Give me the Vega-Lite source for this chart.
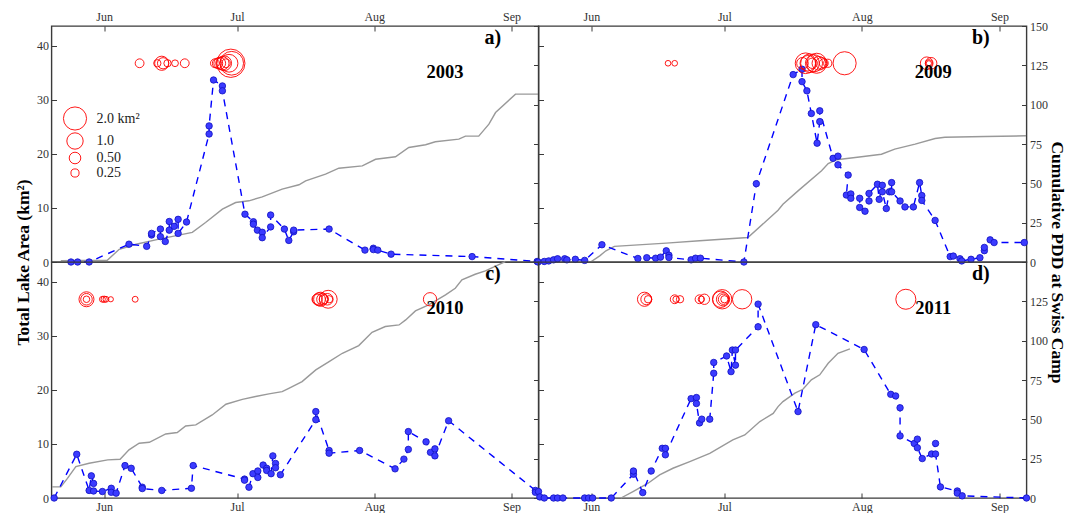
{
  "$schema": "https://vega.github.io/schema/vega-lite/v6.json",
  "padding": {"left": 13.5, "top": 9, "right": 0, "bottom": 0},
  "background": "white",
  "datasets": {
    "area": [
      {"p":"a","doy":144.5,"km2":0,"i":1},{"p":"a","doy":146.0,"km2":0,"i":2},{"p":"a","doy":148.6,"km2":0,"i":3},
      {"p":"a","doy":157.6,"km2":3.3,"i":4},{"p":"a","doy":161.6,"km2":2.9,"i":5},{"p":"a","doy":162.7,"km2":5.0,"i":6},
      {"p":"a","doy":162.7,"km2":5.3,"i":7},{"p":"a","doy":164.7,"km2":6.1,"i":8},{"p":"a","doy":164.7,"km2":4.7,"i":9},
      {"p":"a","doy":165.8,"km2":3.8,"i":10},{"p":"a","doy":166.7,"km2":5.9,"i":11},{"p":"a","doy":166.7,"km2":7.5,"i":12},
      {"p":"a","doy":167.8,"km2":6.6,"i":13},{"p":"a","doy":168.7,"km2":7.9,"i":14},{"p":"a","doy":168.7,"km2":5.3,"i":15},
      {"p":"a","doy":170.6,"km2":7.4,"i":16},{"p":"a","doy":175.7,"km2":23.7,"i":17},{"p":"a","doy":175.7,"km2":25.2,"i":18},
      {"p":"a","doy":176.7,"km2":33.7,"i":19},{"p":"a","doy":178.7,"km2":32.6,"i":20},{"p":"a","doy":178.7,"km2":31.7,"i":21},
      {"p":"a","doy":183.8,"km2":8.85,"i":22},{"p":"a","doy":185.7,"km2":7.45,"i":23},{"p":"a","doy":185.7,"km2":7.0,"i":24},
      {"p":"a","doy":186.6,"km2":5.9,"i":25},{"p":"a","doy":187.7,"km2":5.5,"i":26},{"p":"a","doy":187.7,"km2":4.5,"i":27},
      {"p":"a","doy":189.6,"km2":6.5,"i":28},{"p":"a","doy":189.6,"km2":8.7,"i":29},{"p":"a","doy":192.7,"km2":6.1,"i":30},
      {"p":"a","doy":193.7,"km2":4.0,"i":31},{"p":"a","doy":194.8,"km2":5.6,"i":32},{"p":"a","doy":194.8,"km2":5.9,"i":33},
      {"p":"a","doy":202.8,"km2":6.1,"i":34},{"p":"a","doy":210.9,"km2":2.2,"i":35},{"p":"a","doy":212.8,"km2":2.55,"i":36},
      {"p":"a","doy":212.8,"km2":2.3,"i":37},{"p":"a","doy":213.8,"km2":2.2,"i":38},{"p":"a","doy":216.8,"km2":1.45,"i":39},
      {"p":"a","doy":235.1,"km2":1.0,"i":40},{"p":"a","doy":249.8,"km2":0.1,"i":41},

      {"p":"b","doy":140.0,"km2":0.0,"i":1},{"p":"b","doy":141.4,"km2":0.1,"i":2},{"p":"b","doy":142.4,"km2":0.2,"i":3},
      {"p":"b","doy":143.5,"km2":0.4,"i":4},{"p":"b","doy":144.4,"km2":0.6,"i":5},{"p":"b","doy":146.0,"km2":0.6,"i":6},
      {"p":"b","doy":146.5,"km2":0.4,"i":7},{"p":"b","doy":148.4,"km2":0.5,"i":8},{"p":"b","doy":150.5,"km2":0.3,"i":9},
      {"p":"b","doy":154.4,"km2":3.2,"i":10},{"p":"b","doy":162.5,"km2":0.65,"i":11},{"p":"b","doy":164.5,"km2":0.8,"i":12},
      {"p":"b","doy":166.5,"km2":0.7,"i":13},{"p":"b","doy":167.6,"km2":0.9,"i":14},{"p":"b","doy":168.9,"km2":2.07,"i":15},
      {"p":"b","doy":169.5,"km2":1.26,"i":16},{"p":"b","doy":169.5,"km2":0.83,"i":17},{"p":"b","doy":174.5,"km2":0.4,"i":18},
      {"p":"b","doy":175.5,"km2":0.7,"i":19},{"p":"b","doy":176.6,"km2":0.7,"i":20},{"p":"b","doy":186.4,"km2":0.0,"i":21},
      {"p":"b","doy":189.2,"km2":14.5,"i":22},{"p":"b","doy":197.5,"km2":34.7,"i":23},{"p":"b","doy":199.5,"km2":35.7,"i":24},
      {"p":"b","doy":199.5,"km2":33.4,"i":25},{"p":"b","doy":200.6,"km2":31.7,"i":26},{"p":"b","doy":201.6,"km2":27.5,"i":27},
      {"p":"b","doy":202.9,"km2":22.0,"i":28},{"p":"b","doy":203.5,"km2":26.0,"i":29},{"p":"b","doy":203.5,"km2":28.0,"i":30},
      {"p":"b","doy":206.5,"km2":19.2,"i":31},{"p":"b","doy":207.6,"km2":19.6,"i":32},{"p":"b","doy":207.6,"km2":18.0,"i":33},
      {"p":"b","doy":209.9,"km2":16.1,"i":34},{"p":"b","doy":209.5,"km2":12.4,"i":35},{"p":"b","doy":210.5,"km2":12.6,"i":36},
      {"p":"b","doy":210.5,"km2":11.8,"i":37},{"p":"b","doy":212.5,"km2":11.8,"i":38},{"p":"b","doy":212.5,"km2":10.1,"i":39},
      {"p":"b","doy":213.7,"km2":9.4,"i":40},{"p":"b","doy":214.6,"km2":11.3,"i":41},{"p":"b","doy":214.6,"km2":12.7,"i":42},
      {"p":"b","doy":216.5,"km2":14.4,"i":43},{"p":"b","doy":216.9,"km2":11.6,"i":44},{"p":"b","doy":217.6,"km2":14.2,"i":45},
      {"p":"b","doy":217.6,"km2":13.0,"i":46},{"p":"b","doy":218.5,"km2":9.9,"i":47},{"p":"b","doy":219.2,"km2":13.0,"i":48},
      {"p":"b","doy":219.7,"km2":14.7,"i":49},{"p":"b","doy":219.7,"km2":13.0,"i":50},{"p":"b","doy":221.6,"km2":11.3,"i":51},
      {"p":"b","doy":222.7,"km2":10.2,"i":52},{"p":"b","doy":224.6,"km2":10.2,"i":53},{"p":"b","doy":226.0,"km2":14.7,"i":54},
      {"p":"b","doy":226.5,"km2":12.3,"i":55},{"p":"b","doy":226.5,"km2":11.4,"i":56},{"p":"b","doy":229.5,"km2":7.7,"i":57},
      {"p":"b","doy":232.9,"km2":1.0,"i":58},{"p":"b","doy":233.6,"km2":1.1,"i":59},{"p":"b","doy":235.1,"km2":0.6,"i":60},
      {"p":"b","doy":235.5,"km2":0.2,"i":61},{"p":"b","doy":237.6,"km2":0.5,"i":62},{"p":"b","doy":239.6,"km2":0.8,"i":63},
      {"p":"b","doy":240.6,"km2":2.1,"i":64},{"p":"b","doy":240.6,"km2":2.7,"i":65},{"p":"b","doy":241.9,"km2":4.1,"i":66},
      {"p":"b","doy":242.8,"km2":3.6,"i":67},{"p":"b","doy":249.6,"km2":3.6,"i":68},

      {"p":"c","doy":140.7,"km2":0.0,"i":1},{"p":"c","doy":145.8,"km2":8.1,"i":2},{"p":"c","doy":148.6,"km2":1.4,"i":3},
      {"p":"c","doy":149.1,"km2":4.1,"i":4},{"p":"c","doy":149.6,"km2":2.7,"i":5},{"p":"c","doy":149.6,"km2":1.3,"i":6},
      {"p":"c","doy":151.6,"km2":1.2,"i":7},{"p":"c","doy":153.6,"km2":1.8,"i":8},{"p":"c","doy":153.6,"km2":1.05,"i":9},
      {"p":"c","doy":154.7,"km2":0.9,"i":10},{"p":"c","doy":156.7,"km2":6.0,"i":11},{"p":"c","doy":158.1,"km2":5.5,"i":12},
      {"p":"c","doy":160.6,"km2":2.0,"i":13},{"p":"c","doy":160.6,"km2":1.75,"i":14},{"p":"c","doy":165.0,"km2":1.4,"i":15},
      {"p":"c","doy":171.7,"km2":1.8,"i":16},{"p":"c","doy":172.1,"km2":6.0,"i":17},{"p":"c","doy":183.7,"km2":3.5,"i":18},
      {"p":"c","doy":183.7,"km2":3.3,"i":19},{"p":"c","doy":184.7,"km2":2.0,"i":20},{"p":"c","doy":185.6,"km2":4.5,"i":21},
      {"p":"c","doy":186.7,"km2":5.0,"i":22},{"p":"c","doy":186.7,"km2":3.8,"i":23},{"p":"c","doy":187.9,"km2":6.1,"i":24},
      {"p":"c","doy":188.7,"km2":5.5,"i":25},{"p":"c","doy":188.7,"km2":5.1,"i":26},{"p":"c","doy":189.7,"km2":4.5,"i":27},
      {"p":"c","doy":190.1,"km2":7.8,"i":28},{"p":"c","doy":190.7,"km2":6.4,"i":29},{"p":"c","doy":190.7,"km2":5.6,"i":30},
      {"p":"c","doy":191.8,"km2":4.3,"i":31},{"p":"c","doy":199.8,"km2":14.5,"i":32},{"p":"c","doy":199.8,"km2":16.0,"i":33},
      {"p":"c","doy":202.8,"km2":8.8,"i":34},{"p":"c","doy":202.8,"km2":8.3,"i":35},{"p":"c","doy":209.7,"km2":8.8,"i":36},
      {"p":"c","doy":217.7,"km2":5.4,"i":37},{"p":"c","doy":219.7,"km2":7.2,"i":38},{"p":"c","doy":220.7,"km2":9.0,"i":39},
      {"p":"c","doy":220.7,"km2":12.3,"i":40},{"p":"c","doy":224.7,"km2":10.4,"i":41},{"p":"c","doy":225.7,"km2":8.45,"i":42},
      {"p":"c","doy":226.7,"km2":9.1,"i":43},{"p":"c","doy":226.7,"km2":7.8,"i":44},{"p":"c","doy":229.8,"km2":14.3,"i":45},
      {"p":"c","doy":249.4,"km2":1.4,"i":46},{"p":"c","doy":249.4,"km2":1.05,"i":47},

      {"p":"d","doy":140.1,"km2":1.2,"i":1},{"p":"d","doy":140.4,"km2":0.2,"i":2},{"p":"d","doy":141.4,"km2":0,"i":3},
      {"p":"d","doy":143.5,"km2":0,"i":4},{"p":"d","doy":144.4,"km2":0,"i":5},{"p":"d","doy":145.6,"km2":0,"i":6},
      {"p":"d","doy":150.5,"km2":0,"i":7},{"p":"d","doy":151.4,"km2":0,"i":8},{"p":"d","doy":152.3,"km2":0,"i":9},
      {"p":"d","doy":156.5,"km2":0,"i":10},{"p":"d","doy":161.5,"km2":4.4,"i":11},{"p":"d","doy":161.5,"km2":5.0,"i":12},
      {"p":"d","doy":163.6,"km2":1.0,"i":13},{"p":"d","doy":165.5,"km2":5.0,"i":14},{"p":"d","doy":168.0,"km2":9.2,"i":15},
      {"p":"d","doy":168.7,"km2":9.2,"i":16},{"p":"d","doy":168.7,"km2":8.0,"i":17},{"p":"d","doy":174.5,"km2":18.4,"i":18},
      {"p":"d","doy":175.7,"km2":18.6,"i":19},{"p":"d","doy":175.7,"km2":17.5,"i":20},{"p":"d","doy":176.4,"km2":13.9,"i":21},
      {"p":"d","doy":176.9,"km2":14.6,"i":22},{"p":"d","doy":178.7,"km2":14.6,"i":23},{"p":"d","doy":179.6,"km2":23.1,"i":24},
      {"p":"d","doy":179.6,"km2":25.1,"i":25},{"p":"d","doy":182.5,"km2":26.3,"i":26},{"p":"d","doy":183.5,"km2":23.4,"i":27},
      {"p":"d","doy":183.8,"km2":27.4,"i":28},{"p":"d","doy":184.5,"km2":24.6,"i":29},{"p":"d","doy":184.5,"km2":27.4,"i":30},
      {"p":"d","doy":189.6,"km2":31.7,"i":31},{"p":"d","doy":189.6,"km2":35.9,"i":32},{"p":"d","doy":198.6,"km2":16.0,"i":33},
      {"p":"d","doy":202.6,"km2":32.1,"i":34},{"p":"d","doy":213.5,"km2":27.5,"i":35},{"p":"d","doy":219.5,"km2":19.2,"i":36},
      {"p":"d","doy":220.6,"km2":18.9,"i":37},{"p":"d","doy":221.6,"km2":16.7,"i":38},{"p":"d","doy":221.6,"km2":11.5,"i":39},
      {"p":"d","doy":224.8,"km2":10.1,"i":40},{"p":"d","doy":225.5,"km2":10.9,"i":41},{"p":"d","doy":225.5,"km2":9.3,"i":42},
      {"p":"d","doy":226.6,"km2":7.3,"i":43},{"p":"d","doy":228.7,"km2":8.15,"i":44},{"p":"d","doy":229.6,"km2":10.1,"i":45},
      {"p":"d","doy":229.6,"km2":8.15,"i":46},{"p":"d","doy":230.7,"km2":2.05,"i":47},{"p":"d","doy":234.5,"km2":1.3,"i":48},
      {"p":"d","doy":234.5,"km2":0.9,"i":49},{"p":"d","doy":235.6,"km2":0.4,"i":50},{"p":"d","doy":250.1,"km2":0.0,"i":51}
    ],
    "pdd": [
      {"p":"a","doy":142.2,"pdd":0.8},{"p":"a","doy":152.7,"pdd":1.1},{"p":"a","doy":155.4,"pdd":8.1},{"p":"a","doy":159.2,"pdd":11.3},
      {"p":"a","doy":164.4,"pdd":14.5},{"p":"a","doy":171.9,"pdd":18.8},{"p":"a","doy":174.9,"pdd":25.1},{"p":"a","doy":178.7,"pdd":33.6},
      {"p":"a","doy":181.7,"pdd":37.8},{"p":"a","doy":184.7,"pdd":38.9},{"p":"a","doy":187.7,"pdd":41.4},{"p":"a","doy":192.2,"pdd":46.3},
      {"p":"a","doy":196.0,"pdd":49.1},{"p":"a","doy":197.5,"pdd":51.6},{"p":"a","doy":202.0,"pdd":55.8},{"p":"a","doy":205.0,"pdd":59.6},
      {"p":"a","doy":210.3,"pdd":61.1},{"p":"a","doy":213.3,"pdd":65.3},{"p":"a","doy":217.8,"pdd":66.9},{"p":"a","doy":220.8,"pdd":72.8},
      {"p":"a","doy":224.6,"pdd":74.5},{"p":"a","doy":226.8,"pdd":76.4},{"p":"a","doy":232.1,"pdd":78.1},{"p":"a","doy":233.6,"pdd":80.0},
      {"p":"a","doy":236.6,"pdd":80.0},{"p":"a","doy":238.9,"pdd":87.6},{"p":"a","doy":240.4,"pdd":95.0},{"p":"a","doy":244.9,"pdd":106.7},
      {"p":"a","doy":250.1,"pdd":106.7},

      {"p":"b","doy":140.0,"pdd":0.0},{"p":"b","doy":152.0,"pdd":0.3},{"p":"b","doy":153.9,"pdd":3.9},{"p":"b","doy":155.3,"pdd":7.1},
      {"p":"b","doy":157.2,"pdd":9.9},{"p":"b","doy":168.9,"pdd":12.0},{"p":"b","doy":176.4,"pdd":13.5},{"p":"b","doy":187.3,"pdd":15.6},
      {"p":"b","doy":191.5,"pdd":26.2},{"p":"b","doy":194.1,"pdd":32.9},{"p":"b","doy":195.2,"pdd":36.7},{"p":"b","doy":198.6,"pdd":45.2},
      {"p":"b","doy":203.9,"pdd":58.0},{"p":"b","doy":205.4,"pdd":62.6},{"p":"b","doy":207.3,"pdd":65.0},{"p":"b","doy":212.9,"pdd":66.9},
      {"p":"b","doy":217.4,"pdd":68.5},{"p":"b","doy":220.4,"pdd":71.7},{"p":"b","doy":225.0,"pdd":74.9},{"p":"b","doy":229.5,"pdd":78.5},
      {"p":"b","doy":231.7,"pdd":79.3},{"p":"b","doy":240.8,"pdd":79.8},{"p":"b","doy":250.0,"pdd":80.2},

      {"p":"c","doy":140.2,"pdd":7.1},{"p":"c","doy":142.2,"pdd":7.1},{"p":"c","doy":143.7,"pdd":12.5},{"p":"c","doy":145.6,"pdd":20.0},
      {"p":"c","doy":148.6,"pdd":22.1},{"p":"c","doy":152.8,"pdd":24.2},{"p":"c","doy":155.6,"pdd":24.6},{"p":"c","doy":157.6,"pdd":30.6},
      {"p":"c","doy":159.9,"pdd":34.8},{"p":"c","doy":162.2,"pdd":35.4},{"p":"c","doy":165.9,"pdd":40.7},{"p":"c","doy":168.5,"pdd":41.6},
      {"p":"c","doy":170.4,"pdd":45.8},{"p":"c","doy":172.7,"pdd":46.5},{"p":"c","doy":176.4,"pdd":52.8},{"p":"c","doy":179.5,"pdd":59.6},
      {"p":"c","doy":183.2,"pdd":62.7},{"p":"c","doy":186.2,"pdd":64.5},{"p":"c","doy":189.2,"pdd":66.2},{"p":"c","doy":192.2,"pdd":67.6},
      {"p":"c","doy":193.7,"pdd":69.7},{"p":"c","doy":196.7,"pdd":74.0},{"p":"c","doy":199.8,"pdd":81.4},{"p":"c","doy":202.8,"pdd":86.7},
      {"p":"c","doy":205.8,"pdd":92.0},{"p":"c","doy":209.5,"pdd":96.9},{"p":"c","doy":212.5,"pdd":105.3},{"p":"c","doy":215.5,"pdd":109.0},
      {"p":"c","doy":218.6,"pdd":110.0},{"p":"c","doy":220.1,"pdd":113.2},{"p":"c","doy":222.3,"pdd":118.9},{"p":"c","doy":225.3,"pdd":122.7},
      {"p":"c","doy":229.1,"pdd":129.1},{"p":"c","doy":231.3,"pdd":133.3},{"p":"c","doy":232.8,"pdd":138.6},{"p":"c","doy":235.8,"pdd":142.2},
      {"p":"c","doy":238.1,"pdd":144.4},{"p":"c","doy":242.6,"pdd":150.3},

      {"p":"d","doy":158.7,"pdd":0.0},{"p":"d","doy":161.4,"pdd":4.1},{"p":"d","doy":164.8,"pdd":9.4},{"p":"d","doy":167.4,"pdd":14.7},
      {"p":"d","doy":170.4,"pdd":18.9},{"p":"d","doy":174.2,"pdd":23.1},{"p":"d","doy":178.7,"pdd":28.4},{"p":"d","doy":183.9,"pdd":36.9},
      {"p":"d","doy":186.6,"pdd":40.1},{"p":"d","doy":190.0,"pdd":48.6},{"p":"d","doy":193.0,"pdd":53.8},{"p":"d","doy":194.1,"pdd":58.1},
      {"p":"d","doy":195.2,"pdd":61.3},{"p":"d","doy":197.9,"pdd":66.6},{"p":"d","doy":199.7,"pdd":69.1},{"p":"d","doy":201.6,"pdd":75.1},
      {"p":"d","doy":203.5,"pdd":78.3},{"p":"d","doy":205.4,"pdd":85.6},{"p":"d","doy":207.6,"pdd":92.0},{"p":"d","doy":210.3,"pdd":94.8}
    ],
    "lakes": [
      {"p":"a","doy":160.0,"km2":0.29},{"p":"a","doy":164.0,"km2":0.2},{"p":"a","doy":165.0,"km2":0.75},{"p":"a","doy":165.3,"km2":0.47},
      {"p":"a","doy":166.3,"km2":0.2},{"p":"a","doy":168.0,"km2":0.17},{"p":"a","doy":170.2,"km2":0.29},{"p":"a","doy":177.0,"km2":0.29},
      {"p":"a","doy":177.6,"km2":0.4},{"p":"a","doy":178.1,"km2":0.52},{"p":"a","doy":178.7,"km2":0.66},{"p":"a","doy":179.1,"km2":0.82},
      {"p":"a","doy":179.5,"km2":0.29},{"p":"a","doy":180.2,"km2":1.18},{"p":"a","doy":180.6,"km2":3.0},{"p":"a","doy":180.8,"km2":2.1},

      {"p":"b","doy":169.3,"km2":0.12},{"p":"b","doy":170.8,"km2":0.12},{"p":"b","doy":199.6,"km2":0.5},{"p":"b","doy":200.3,"km2":1.6},
      {"p":"b","doy":200.8,"km2":0.9},{"p":"b","doy":201.3,"km2":1.3},{"p":"b","doy":201.8,"km2":0.4},{"p":"b","doy":202.2,"km2":1.1},
      {"p":"b","doy":202.8,"km2":1.5},{"p":"b","doy":203.3,"km2":0.7},{"p":"b","doy":203.9,"km2":0.5},{"p":"b","doy":204.4,"km2":0.3},
      {"p":"b","doy":205.3,"km2":0.25},{"p":"b","doy":209.1,"km2":2.0},{"p":"b","doy":227.6,"km2":0.6},{"p":"b","doy":228.6,"km2":0.5},
      {"p":"b","doy":228.1,"km2":0.2},{"p":"b","doy":228.1,"km2":0.1},

      {"p":"c","doy":148.0,"km2":0.84},{"p":"c","doy":148.0,"km2":0.5},{"p":"c","doy":148.0,"km2":0.16},{"p":"c","doy":151.6,"km2":0.13},
      {"p":"c","doy":152.0,"km2":0.15},{"p":"c","doy":152.4,"km2":0.13},{"p":"c","doy":153.5,"km2":0.1},{"p":"c","doy":159.0,"km2":0.13},
      {"p":"c","doy":200.1,"km2":0.4},{"p":"c","doy":200.5,"km2":0.62},{"p":"c","doy":200.9,"km2":0.75},{"p":"c","doy":201.3,"km2":0.5},
      {"p":"c","doy":201.6,"km2":0.3},{"p":"c","doy":202.4,"km2":0.5},{"p":"c","doy":202.6,"km2":1.2},{"p":"c","doy":202.8,"km2":0.2},
      {"p":"c","doy":225.6,"km2":0.66},

      {"p":"d","doy":164.0,"km2":0.75},{"p":"d","doy":164.4,"km2":0.45},{"p":"d","doy":164.8,"km2":0.2},{"p":"d","doy":170.8,"km2":0.29},
      {"p":"d","doy":171.1,"km2":0.15},{"p":"d","doy":172.0,"km2":0.2},{"p":"d","doy":176.4,"km2":0.29},{"p":"d","doy":176.8,"km2":0.15},
      {"p":"d","doy":177.5,"km2":0.4},{"p":"d","doy":181.2,"km2":1.0},{"p":"d","doy":181.5,"km2":1.4},{"p":"d","doy":181.7,"km2":0.66},
      {"p":"d","doy":181.8,"km2":0.4},{"p":"d","doy":182.0,"km2":0.2},{"p":"d","doy":186.0,"km2":1.4},{"p":"d","doy":222.9,"km2":1.5}
    ],
    "notes": [
      {"p":"a","doy":239.8,"km2":41.5,"t":"a)","k":"panel"},{"p":"a","doy":229.0,"km2":35.2,"t":"2003","k":"year"},
      {"p":"b","doy":239.8,"km2":41.5,"t":"b)","k":"panel"},{"p":"b","doy":229.1,"km2":35.2,"t":"2009","k":"year"},
      {"p":"c","doy":239.8,"km2":41.5,"t":"c)","k":"panel"},{"p":"c","doy":229.0,"km2":35.2,"t":"2010","k":"year"},
      {"p":"d","doy":239.8,"km2":41.5,"t":"d)","k":"panel"},{"p":"d","doy":229.1,"km2":35.2,"t":"2011","k":"year"}
    ]
  },
  "columns": 2,
  "spacing": 0,
  "bounds": "flush",
  "resolve": {"scale": {"size": "independent"}, "legend": {"size": "independent"}},
  "concat": [
    {
      "width": 487, "height": 236,
      "encoding": {"x": {"field": "doy", "type": "quantitative", "scale": {"domain": [140.1, 250.1], "nice": false, "zero": false},
        "axis": {"orient": "top", "values": [152, 182, 213, 244], "labelExpr": "datum.value == 152 ? 'Jun' : datum.value == 182 ? 'Jul' : datum.value == 213 ? 'Aug' : 'Sep'", "title": null}}},
      "layer": [
        {"data": {"name": "pdd"}, "transform": [{"filter": "datum.p == 'a'"}],
         "mark": {"type": "line", "color": "#999999", "strokeWidth": 1.4},
         "encoding": {"y": {"field": "pdd", "type": "quantitative", "scale": {"domain": [0, 150], "nice": false}, "axis": {"orient": "right", "values": [0, 25, 50, 75, 100, 125, 150], "labels": false, "title": null}}}},
        {"encoding": {"y": {"field": "km2", "type": "quantitative", "scale": {"domain": [0, 43.7], "nice": false, "zero": true},
           "axis": {"orient": "left", "values": [0, 10, 20, 30, 40], "title": "Total Lake Area (km²)", "titleY": 236}}},
         "layer": [
          {"data": {"name": "area"}, "transform": [{"filter": "datum.p == 'a'"}],
           "mark": {"type": "line", "color": "#0000ff", "strokeWidth": 1.4, "strokeDash": [7, 6]},
           "encoding": {"order": {"field": "i", "type": "quantitative"}}},
          {"data": {"name": "area"}, "transform": [{"filter": "datum.p == 'a'"}],
           "mark": {"type": "point", "shape": "circle", "filled": true, "size": 42, "fill": "#3b3bff", "stroke": "#1010c0", "strokeWidth": 0.8, "opacity": 1}},
          {"data": {"name": "lakes"}, "transform": [{"filter": "datum.p == 'a'"}],
           "mark": {"type": "point", "shape": "circle", "filled": false, "color": "#ff0000", "strokeWidth": 0.9, "opacity": 1},
           "encoding": {"y": {"datum": 36.8}, "size": {"field": "km2", "type": "quantitative", "scale": {"domain": [0, 2], "range": [0, 535]},
             "legend": {"orient": "none", "legendX": 11, "legendY": 80, "values": [2, 1, 0.5, 0.25], "title": null, "padding": 0,
               "labelFont": "Liberation Serif", "labelFontSize": 14, "labelColor": "#222222", "labelOffset": 9, "rowPadding": -2,
               "labelExpr": "datum.value == 2 ? '2.0 km²' : datum.value == 1 ? '1.0' : datum.value == 0.5 ? '0.50' : '0.25'",
               "symbolStrokeColor": "#ff0000", "symbolFillColor": "transparent", "symbolStrokeWidth": 0.9}}}},
          {"data": {"name": "notes"}, "transform": [{"filter": "datum.p == 'a' && datum.k == 'panel'"}],
           "mark": {"type": "text", "font": "Liberation Serif", "fontWeight": "bold", "fontSize": 20, "align": "center", "baseline": "middle", "color": "#000000"},
           "encoding": {"text": {"field": "t", "type": "nominal"}}},
          {"data": {"name": "notes"}, "transform": [{"filter": "datum.p == 'a' && datum.k == 'year'"}],
           "mark": {"type": "text", "font": "Liberation Serif", "fontWeight": "bold", "fontSize": 18.5, "align": "center", "baseline": "middle", "color": "#000000"},
           "encoding": {"text": {"field": "t", "type": "nominal"}}}
         ]}
      ],
      "resolve": {"scale": {"y": "independent"}}
    },
    {
      "width": 488, "height": 236,
      "encoding": {"x": {"field": "doy", "type": "quantitative", "scale": {"domain": [140.1, 250.1], "nice": false, "zero": false},
        "axis": {"orient": "top", "values": [152, 182, 213, 244], "labelExpr": "datum.value == 152 ? 'Jun' : datum.value == 182 ? 'Jul' : datum.value == 213 ? 'Aug' : 'Sep'", "title": null}}},
      "layer": [
        {"data": {"name": "pdd"}, "transform": [{"filter": "datum.p == 'b'"}],
         "mark": {"type": "line", "color": "#999999", "strokeWidth": 1.4},
         "encoding": {"y": {"field": "pdd", "type": "quantitative", "scale": {"domain": [0, 150], "nice": false}, "axis": {"orient": "right", "values": [0, 25, 50, 75, 100, 125, 150], "title": "Cumulative PDD at Swiss Camp", "titleY": 236, "titlePadding": 0}}}},
        {"encoding": {"y": {"field": "km2", "type": "quantitative", "scale": {"domain": [0, 43.7], "nice": false, "zero": true},
           "axis": {"orient": "left", "values": [0, 10, 20, 30, 40], "labels": false, "title": null}}},
         "layer": [
          {"data": {"name": "area"}, "transform": [{"filter": "datum.p == 'b'"}],
           "mark": {"type": "line", "color": "#0000ff", "strokeWidth": 1.4, "strokeDash": [7, 6]},
           "encoding": {"order": {"field": "i", "type": "quantitative"}}},
          {"data": {"name": "area"}, "transform": [{"filter": "datum.p == 'b'"}],
           "mark": {"type": "point", "shape": "circle", "filled": true, "size": 42, "fill": "#3b3bff", "stroke": "#1010c0", "strokeWidth": 0.8, "opacity": 1}},
          {"data": {"name": "lakes"}, "transform": [{"filter": "datum.p == 'b'"}],
           "mark": {"type": "point", "shape": "circle", "filled": false, "color": "#ff0000", "strokeWidth": 0.9, "opacity": 1},
           "encoding": {"y": {"datum": 36.8}, "size": {"field": "km2", "type": "quantitative", "scale": {"domain": [0, 2], "range": [0, 535]}, "legend": null}}},
          {"data": {"name": "notes"}, "transform": [{"filter": "datum.p == 'b' && datum.k == 'panel'"}],
           "mark": {"type": "text", "font": "Liberation Serif", "fontWeight": "bold", "fontSize": 20, "align": "center", "baseline": "middle", "color": "#000000"},
           "encoding": {"text": {"field": "t", "type": "nominal"}}},
          {"data": {"name": "notes"}, "transform": [{"filter": "datum.p == 'b' && datum.k == 'year'"}],
           "mark": {"type": "text", "font": "Liberation Serif", "fontWeight": "bold", "fontSize": 18.5, "align": "center", "baseline": "middle", "color": "#000000"},
           "encoding": {"text": {"field": "t", "type": "nominal"}}}
         ]}
      ],
      "resolve": {"scale": {"y": "independent"}}
    },
    {
      "width": 487, "height": 236,
      "encoding": {"x": {"field": "doy", "type": "quantitative", "scale": {"domain": [140.1, 250.1], "nice": false, "zero": false},
        "axis": {"orient": "bottom", "values": [152, 182, 213, 244], "labelExpr": "datum.value == 152 ? 'Jun' : datum.value == 182 ? 'Jul' : datum.value == 213 ? 'Aug' : 'Sep'", "title": null}}},
      "layer": [
        {"data": {"name": "pdd"}, "transform": [{"filter": "datum.p == 'c'"}],
         "mark": {"type": "line", "color": "#999999", "strokeWidth": 1.4},
         "encoding": {"y": {"field": "pdd", "type": "quantitative", "scale": {"domain": [0, 150], "nice": false}, "axis": {"orient": "right", "values": [0, 25, 50, 75, 100, 125, 150], "labels": false, "title": null}}}},
        {"encoding": {"y": {"field": "km2", "type": "quantitative", "scale": {"domain": [0, 43.7], "nice": false, "zero": true},
           "axis": {"orient": "left", "values": [0, 10, 20, 30, 40], "title": null}}},
         "layer": [
          {"data": {"name": "area"}, "transform": [{"filter": "datum.p == 'c'"}],
           "mark": {"type": "line", "color": "#0000ff", "strokeWidth": 1.4, "strokeDash": [7, 6]},
           "encoding": {"order": {"field": "i", "type": "quantitative"}}},
          {"data": {"name": "area"}, "transform": [{"filter": "datum.p == 'c'"}],
           "mark": {"type": "point", "shape": "circle", "filled": true, "size": 42, "fill": "#3b3bff", "stroke": "#1010c0", "strokeWidth": 0.8, "opacity": 1}},
          {"data": {"name": "lakes"}, "transform": [{"filter": "datum.p == 'c'"}],
           "mark": {"type": "point", "shape": "circle", "filled": false, "color": "#ff0000", "strokeWidth": 0.9, "opacity": 1},
           "encoding": {"y": {"datum": 36.8}, "size": {"field": "km2", "type": "quantitative", "scale": {"domain": [0, 2], "range": [0, 535]}, "legend": null}}},
          {"data": {"name": "notes"}, "transform": [{"filter": "datum.p == 'c' && datum.k == 'panel'"}],
           "mark": {"type": "text", "font": "Liberation Serif", "fontWeight": "bold", "fontSize": 20, "align": "center", "baseline": "middle", "color": "#000000"},
           "encoding": {"text": {"field": "t", "type": "nominal"}}},
          {"data": {"name": "notes"}, "transform": [{"filter": "datum.p == 'c' && datum.k == 'year'"}],
           "mark": {"type": "text", "font": "Liberation Serif", "fontWeight": "bold", "fontSize": 18.5, "align": "center", "baseline": "middle", "color": "#000000"},
           "encoding": {"text": {"field": "t", "type": "nominal"}}}
         ]}
      ],
      "resolve": {"scale": {"y": "independent"}}
    },
    {
      "width": 488, "height": 236,
      "encoding": {"x": {"field": "doy", "type": "quantitative", "scale": {"domain": [140.1, 250.1], "nice": false, "zero": false},
        "axis": {"orient": "bottom", "values": [152, 182, 213, 244], "labelExpr": "datum.value == 152 ? 'Jun' : datum.value == 182 ? 'Jul' : datum.value == 213 ? 'Aug' : 'Sep'", "title": null}}},
      "layer": [
        {"data": {"name": "pdd"}, "transform": [{"filter": "datum.p == 'd'"}],
         "mark": {"type": "line", "color": "#999999", "strokeWidth": 1.4},
         "encoding": {"y": {"field": "pdd", "type": "quantitative", "scale": {"domain": [0, 150], "nice": false}, "axis": {"orient": "right", "values": [0, 25, 50, 75, 100, 125], "title": null}}}},
        {"encoding": {"y": {"field": "km2", "type": "quantitative", "scale": {"domain": [0, 43.7], "nice": false, "zero": true},
           "axis": {"orient": "left", "values": [0, 10, 20, 30, 40], "labels": false, "title": null}}},
         "layer": [
          {"data": {"name": "area"}, "transform": [{"filter": "datum.p == 'd'"}],
           "mark": {"type": "line", "color": "#0000ff", "strokeWidth": 1.4, "strokeDash": [7, 6]},
           "encoding": {"order": {"field": "i", "type": "quantitative"}}},
          {"data": {"name": "area"}, "transform": [{"filter": "datum.p == 'd'"}],
           "mark": {"type": "point", "shape": "circle", "filled": true, "size": 42, "fill": "#3b3bff", "stroke": "#1010c0", "strokeWidth": 0.8, "opacity": 1}},
          {"data": {"name": "lakes"}, "transform": [{"filter": "datum.p == 'd'"}],
           "mark": {"type": "point", "shape": "circle", "filled": false, "color": "#ff0000", "strokeWidth": 0.9, "opacity": 1},
           "encoding": {"y": {"datum": 36.8}, "size": {"field": "km2", "type": "quantitative", "scale": {"domain": [0, 2], "range": [0, 535]}, "legend": null}}},
          {"data": {"name": "notes"}, "transform": [{"filter": "datum.p == 'd' && datum.k == 'panel'"}],
           "mark": {"type": "text", "font": "Liberation Serif", "fontWeight": "bold", "fontSize": 20, "align": "center", "baseline": "middle", "color": "#000000"},
           "encoding": {"text": {"field": "t", "type": "nominal"}}},
          {"data": {"name": "notes"}, "transform": [{"filter": "datum.p == 'd' && datum.k == 'year'"}],
           "mark": {"type": "text", "font": "Liberation Serif", "fontWeight": "bold", "fontSize": 18.5, "align": "center", "baseline": "middle", "color": "#000000"},
           "encoding": {"text": {"field": "t", "type": "nominal"}}}
         ]}
      ],
      "resolve": {"scale": {"y": "independent"}}
    }
  ],
  "config": {
    "view": {"stroke": "#3a3a3a", "strokeWidth": 1.4},
    "font": "Liberation Serif",
    "axis": {"domain": false, "grid": false, "ticks": true, "tickSize": -5, "tickColor": "#3a3a3a", "tickWidth": 1,
      "labelFont": "Liberation Serif", "labelFontSize": 12, "labelColor": "#333333", "labelPadding": 8, "labelFlush": false,
      "titleFont": "Liberation Serif", "titleFontSize": 17.5, "titleFontWeight": "bold", "titleColor": "#000000"},
    "text": {"font": "Liberation Serif"}
  }
}
